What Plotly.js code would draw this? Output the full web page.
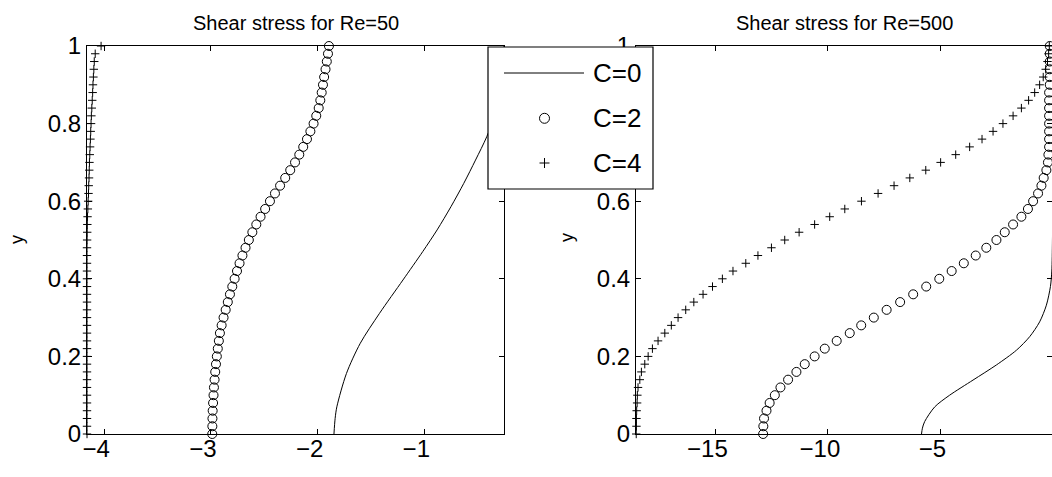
<!DOCTYPE html>
<html>
<head>
<meta charset="utf-8">
<script src="https://cdn.plot.ly/plotly-3.0.1.min.js"></script>
<style>html,body{margin:0;padding:0;background:#fff;}#chart{width:1052px;height:477px;}</style>
</head>
<body>
<div id="chart"></div>
<script>
// ---- data ----
const yGrid = [0,0.02,0.04,0.06,0.08,0.10,0.12,0.14,0.16,0.18,0.20,0.22,0.24,0.26,0.28,0.30,0.32,0.34,0.36,0.38,0.40,0.42,0.44,0.46,0.48,0.50,0.52,0.54,0.56,0.58,0.60,0.62,0.64,0.66,0.68,0.70,0.72,0.74,0.76,0.78,0.80,0.82,0.84,0.86,0.88,0.90,0.92,0.94,0.96,0.98,1.00];

// Re = 50
const re50C0Y = [0,0.04,0.07,0.156,0.234,0.311,0.397,0.47,0.526,0.586,0.646,0.706,0.766,0.83,0.9,1.0];
const re50C0X = [-1.847,-1.836,-1.82,-1.73,-1.60,-1.42,-1.20,-1.015,-0.88,-0.75,-0.63,-0.52,-0.415,-0.33,-0.28,-0.253];
const re50C2X = [-2.988,-2.987,-2.986,-2.984,-2.980,-2.976,-2.972,-2.966,-2.960,-2.953,-2.945,-2.936,-2.926,-2.916,-2.900,-2.882,-2.862,-2.842,-2.822,-2.800,-2.778,-2.756,-2.732,-2.705,-2.676,-2.645,-2.612,-2.575,-2.535,-2.492,-2.447,-2.400,-2.352,-2.304,-2.257,-2.212,-2.172,-2.135,-2.100,-2.068,-2.038,-2.013,-1.990,-1.975,-1.962,-1.950,-1.939,-1.926,-1.914,-1.903,-1.894];
const re50C4X = [-4.162,-4.162,-4.162,-4.162,-4.162,-4.162,-4.162,-4.162,-4.162,-4.162,-4.162,-4.162,-4.162,-4.162,-4.162,-4.162,-4.162,-4.162,-4.162,-4.162,-4.162,-4.162,-4.162,-4.162,-4.162,-4.161,-4.160,-4.159,-4.157,-4.154,-4.151,-4.148,-4.146,-4.143,-4.141,-4.139,-4.136,-4.133,-4.130,-4.127,-4.124,-4.121,-4.117,-4.113,-4.109,-4.106,-4.102,-4.098,-4.094,-4.085,-4.03];

// Re = 500
const re500C0Y = [0,0.015,0.032,0.07,0.1,0.139,0.178,0.216,0.251,0.289,0.332,0.38,0.42,0.5,0.7,1.0];
const re500C0X = [-5.84,-5.80,-5.70,-5.25,-4.59,-3.55,-2.51,-1.62,-1.03,-0.59,-0.29,-0.11,-0.05,-0.02,-0.005,0];
const re500C2X = [-12.88,-12.87,-12.84,-12.73,-12.59,-12.36,-12.11,-11.77,-11.40,-11.03,-10.59,-10.14,-9.61,-9.03,-8.52,-7.96,-7.39,-6.79,-6.21,-5.63,-5.05,-4.50,-3.96,-3.43,-2.96,-2.51,-2.14,-1.77,-1.40,-1.11,-0.88,-0.66,-0.51,-0.41,-0.29,-0.22,-0.20,-0.17,-0.17,-0.17,-0.17,-0.17,-0.17,-0.17,-0.17,-0.14,-0.14,-0.14,-0.14,-0.14,-0.14];
const re500C4X = [-18.52,-18.51,-18.51,-18.50,-18.48,-18.47,-18.44,-18.36,-18.29,-18.14,-17.99,-17.80,-17.55,-17.25,-16.96,-16.66,-16.32,-15.96,-15.55,-15.13,-14.69,-14.22,-13.65,-13.11,-12.51,-11.92,-11.28,-10.59,-9.92,-9.25,-8.51,-7.77,-7.06,-6.36,-5.65,-4.99,-4.32,-3.70,-3.15,-2.66,-2.22,-1.77,-1.40,-1.08,-0.81,-0.59,-0.43,-0.32,-0.24,-0.19,-0.16];

const legendLabels = ['C=0','C=2','C=4'];
const titles = ['Shear stress for Re=50','Shear stress for Re=500'];
const yTitle = 'y';
const xTicks50 = [-4,-3,-2,-1];
const xTicks500 = [-15,-10,-5];
const yTicks = [0,0.2,0.4,0.6,0.8,1];
const yTickText = ['0','0.2','0.4','0.6','0.8','1'];
// right panel: the 0.8 label sits fully under the legend box in the reference
const yTickText500 = ['0','0.2','0.4','0.6','','1'];

// ---- layout helpers ----
const W = 1052, H = 477;
const FONT = 'Liberation Sans, Arial, sans-serif';
const px = v => v / W;
const py = v => (H - v) / H;

const lineStyle = {color:'black', width:1};
const circleMarker = {symbol:'circle-open', size:9, color:'black', line:{color:'black', width:1}};
const crossMarker = {symbol:'cross-thin-open', size:6, color:'black', line:{color:'black', width:1}};

const traces = [
  {x:re50C0X, y:re50C0Y, mode:'lines', line:Object.assign({shape:'spline', smoothing:0.8}, lineStyle), xaxis:'x', yaxis:'y', name:legendLabels[0]},
  {x:re50C2X, y:yGrid, mode:'markers', marker:circleMarker, cliponaxis:false, xaxis:'x', yaxis:'y', name:legendLabels[1]},
  {x:re50C4X, y:yGrid, mode:'markers', marker:crossMarker, cliponaxis:false, xaxis:'x', yaxis:'y', name:legendLabels[2]},
  {x:re500C0X, y:re500C0Y, mode:'lines', line:Object.assign({shape:'spline', smoothing:0.8}, lineStyle), xaxis:'x2', yaxis:'y2', name:legendLabels[0]},
  {x:re500C2X, y:yGrid, mode:'markers', marker:circleMarker, cliponaxis:false, xaxis:'x2', yaxis:'y2', name:legendLabels[1]},
  {x:re500C4X, y:yGrid, mode:'markers', marker:crossMarker, cliponaxis:false, xaxis:'x2', yaxis:'y2', name:legendLabels[2]}
];

const axisBase = {
  showline:true, linecolor:'black', linewidth:1, mirror:'allticks',
  ticks:'inside', ticklen:5, tickcolor:'black', tickwidth:1,
  showgrid:false, zeroline:false,
  tickfont:{family:FONT, size:24, color:'black'}
};
const xBase = Object.assign({}, axisBase, {ticklabelshift:-8, ticklabelstandoff:-7});
const yDomain = [py(434), py(46)];

const layout = {
  width:W, height:H,
  margin:{l:0, r:0, t:0, b:0, pad:0},
  paper_bgcolor:'white', plot_bgcolor:'white',
  showlegend:false,
  font:{family:FONT, color:'black'},
  xaxis:Object.assign({}, xBase, {domain:[px(87), px(504)], range:[-4.162,-0.253], tickvals:xTicks50, anchor:'y'}),
  yaxis:Object.assign({}, axisBase, {domain:yDomain, range:[0,1], tickvals:yTicks, ticktext:yTickText, anchor:'x'}),
  xaxis2:Object.assign({}, xBase, {domain:[px(636), 1], range:[-18.53,-0.04], tickvals:xTicks500, anchor:'y2'}),
  yaxis2:Object.assign({}, axisBase, {domain:yDomain, range:[0,1], tickvals:yTicks, ticktext:yTickText500, anchor:'x2'}),
  shapes:[
    {type:'rect', xref:'paper', yref:'paper', x0:px(488), x1:px(653), y0:py(189), y1:py(47), fillcolor:'white', line:{color:'black', width:1.2}, layer:'above'},
    {type:'line', xref:'paper', yref:'paper', x0:px(504), x1:px(584), y0:py(73), y1:py(73), line:{color:'black', width:1}, layer:'above'},
    {type:'circle', xref:'paper', yref:'paper', x0:px(539.5), x1:px(549.5), y0:py(123.3), y1:py(113.3), line:{color:'black', width:1}, layer:'above'},
    {type:'line', xref:'paper', yref:'paper', x0:px(539.5), x1:px(549.5), y0:py(163), y1:py(163), line:{color:'black', width:1}, layer:'above'},
    {type:'line', xref:'paper', yref:'paper', x0:px(544.5), x1:px(544.5), y0:py(168), y1:py(158), line:{color:'black', width:1}, layer:'above'}
  ],
  annotations:[
    {text:titles[0], xref:'paper', yref:'paper', x:px(295.5), y:py(23), xanchor:'center', yanchor:'middle', showarrow:false, font:{family:FONT, size:20, color:'black'}},
    {text:titles[1], xref:'paper', yref:'paper', x:px(844), y:py(23), xanchor:'center', yanchor:'middle', showarrow:false, font:{family:FONT, size:20, color:'black'}},
    {text:yTitle, xref:'paper', yref:'paper', x:px(17), y:py(240), xanchor:'center', yanchor:'middle', textangle:-90, showarrow:false, font:{family:FONT, size:18, color:'black'}},
    {text:yTitle, xref:'paper', yref:'paper', x:px(567), y:py(238), xanchor:'center', yanchor:'middle', textangle:-90, showarrow:false, font:{family:FONT, size:18, color:'black'}},
    {text:legendLabels[0], xref:'paper', yref:'paper', x:px(591), y:py(73), xanchor:'left', yanchor:'middle', showarrow:false, font:{family:FONT, size:26, color:'black'}},
    {text:legendLabels[1], xref:'paper', yref:'paper', x:px(591), y:py(118), xanchor:'left', yanchor:'middle', showarrow:false, font:{family:FONT, size:26, color:'black'}},
    {text:legendLabels[2], xref:'paper', yref:'paper', x:px(591), y:py(163), xanchor:'left', yanchor:'middle', showarrow:false, font:{family:FONT, size:26, color:'black'}}
  ]
};

Plotly.newPlot('chart', traces, layout, {staticPlot:true, displayModeBar:false});
</script>
</body>
</html>
